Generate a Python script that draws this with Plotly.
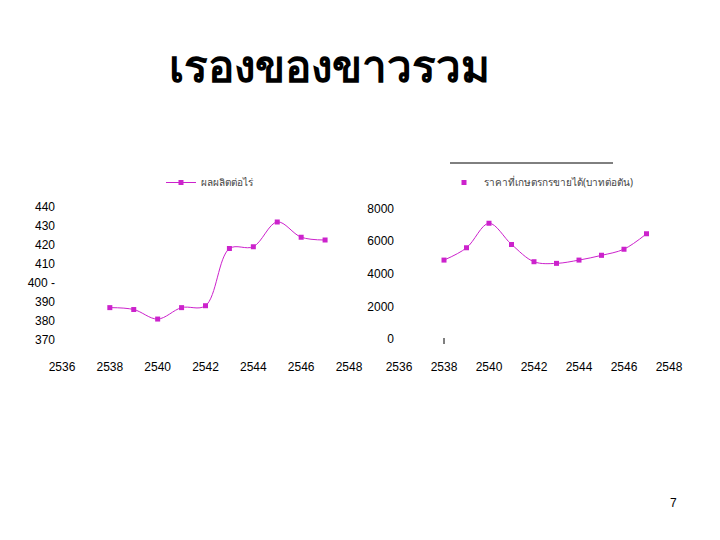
import plotly.graph_objects as go

years = [2538, 2539, 2540, 2541, 2542, 2543, 2544, 2545, 2546, 2547]
yield_per_rai = [387, 386, 381, 387, 388, 418, 419, 432, 424, 422.5]
price_per_ton = [4830, 5580, 7080, 5790, 4730, 4630, 4830, 5120, 5500, 6440]

x_ticks = [2536, 2538, 2540, 2542, 2544, 2546, 2548]
left_y_ticks = [370, 380, 390, 400, 410, 420, 430, 440]
left_y_labels = ["370", "380", "390", "400 -", "410", "420", "430", "440"]
right_y_ticks = [0, 2000, 4000, 6000, 8000]

title_text = "เรองของขาวรวม"
left_name = "ผลผลิตต่อไร่"
right_name = "ราคาที่เกษตรกรขายได้(บาทต่อตัน)"
page_no = "7"

MAG = "#cc22cc"
W, H = 720, 540
OFF = 8  # page body margin


def px(x):
    return (x - OFF) / W


def py(y):
    return 1 - (y - OFF) / H


tick_font = dict(family="Liberation Sans Narrow, Liberation Sans, Arial, sans-serif",
                 size=12, color="black")

fig = go.Figure()
fig.add_trace(go.Scatter(
    x=years, y=yield_per_rai, mode="lines+markers", name=left_name,
    line=dict(color=MAG, width=1, shape="spline"),
    marker=dict(symbol="square", size=5, color=MAG),
    xaxis="x", yaxis="y", legend="legend",
))
fig.add_trace(go.Scatter(
    x=years, y=price_per_ton, mode="lines+markers", name=right_name,
    line=dict(color=MAG, width=1, shape="spline"),
    marker=dict(symbol="square", size=5, color=MAG),
    xaxis="x2", yaxis="y2", legend="legend2", showlegend=False,
))
fig.add_trace(go.Scatter(
    x=[None], y=[None], mode="markers", name=right_name,
    marker=dict(symbol="square", size=5, color=MAG),
    xaxis="x2", yaxis="y2", legend="legend2",
))

ax_common = dict(showgrid=False, zeroline=False, showline=False, ticks="",
                 tickfont=tick_font, automargin=False)

fig.update_layout(
    width=W, height=H,
    margin=dict(l=0, r=0, t=0, b=0, autoexpand=False),
    paper_bgcolor="white", plot_bgcolor="white",
    xaxis=dict(domain=[px(62), px(349)], range=[2536, 2548], tickvals=x_ticks,
               anchor="y", ticklabelstandoff=18, **ax_common),
    yaxis=dict(domain=[py(340), py(206.7)], range=[370, 440],
               tickvals=left_y_ticks, ticktext=left_y_labels, anchor="x",
               ticklabelstandoff=6, **ax_common),
    xaxis2=dict(domain=[px(399), px(669)], range=[2536, 2548], tickvals=x_ticks,
                anchor="y2", ticklabelstandoff=19, **ax_common),
    yaxis2=dict(domain=[py(339), py(208.3)], range=[0, 8000],
                tickvals=right_y_ticks, anchor="x2", ticklabelstandoff=4,
                **ax_common),
    legend=dict(x=px(161), y=py(168), xanchor="left", yanchor="top",
                orientation="h", bgcolor="rgba(0,0,0,0)",
                font=dict(family="Noto Sans, sans-serif", size=10, color="#444")),
    legend2=dict(x=px(444), y=py(168), xanchor="left", yanchor="top",
                 orientation="h", bgcolor="rgba(0,0,0,0)",
                 font=dict(family="Noto Sans, sans-serif", size=10, color="#444")),
    showlegend=True,
)

fig.add_shape(type="line", xref="paper", yref="paper",
              x0=px(450), x1=px(613), y0=py(163), y1=py(163),
              line=dict(color="black", width=1))
fig.add_shape(type="line", xref="x2", yref="paper",
              x0=2538, x1=2538, y0=py(344), y1=py(338),
              line=dict(color="black", width=1))

fig.add_annotation(text="<b>" + title_text + "</b>", xref="paper", yref="paper",
                   x=px(329), y=py(65), showarrow=False,
                   font=dict(family="Noto Sans, sans-serif", size=44, color="black"),
                   xanchor="center", yanchor="middle")
fig.add_annotation(text=page_no, xref="paper", yref="paper",
                   x=px(673), y=py(503), showarrow=False,
                   font=dict(family="Liberation Sans, Arial", size=12, color="black"),
                   xanchor="center", yanchor="middle")

fig.write_html("out.html")
